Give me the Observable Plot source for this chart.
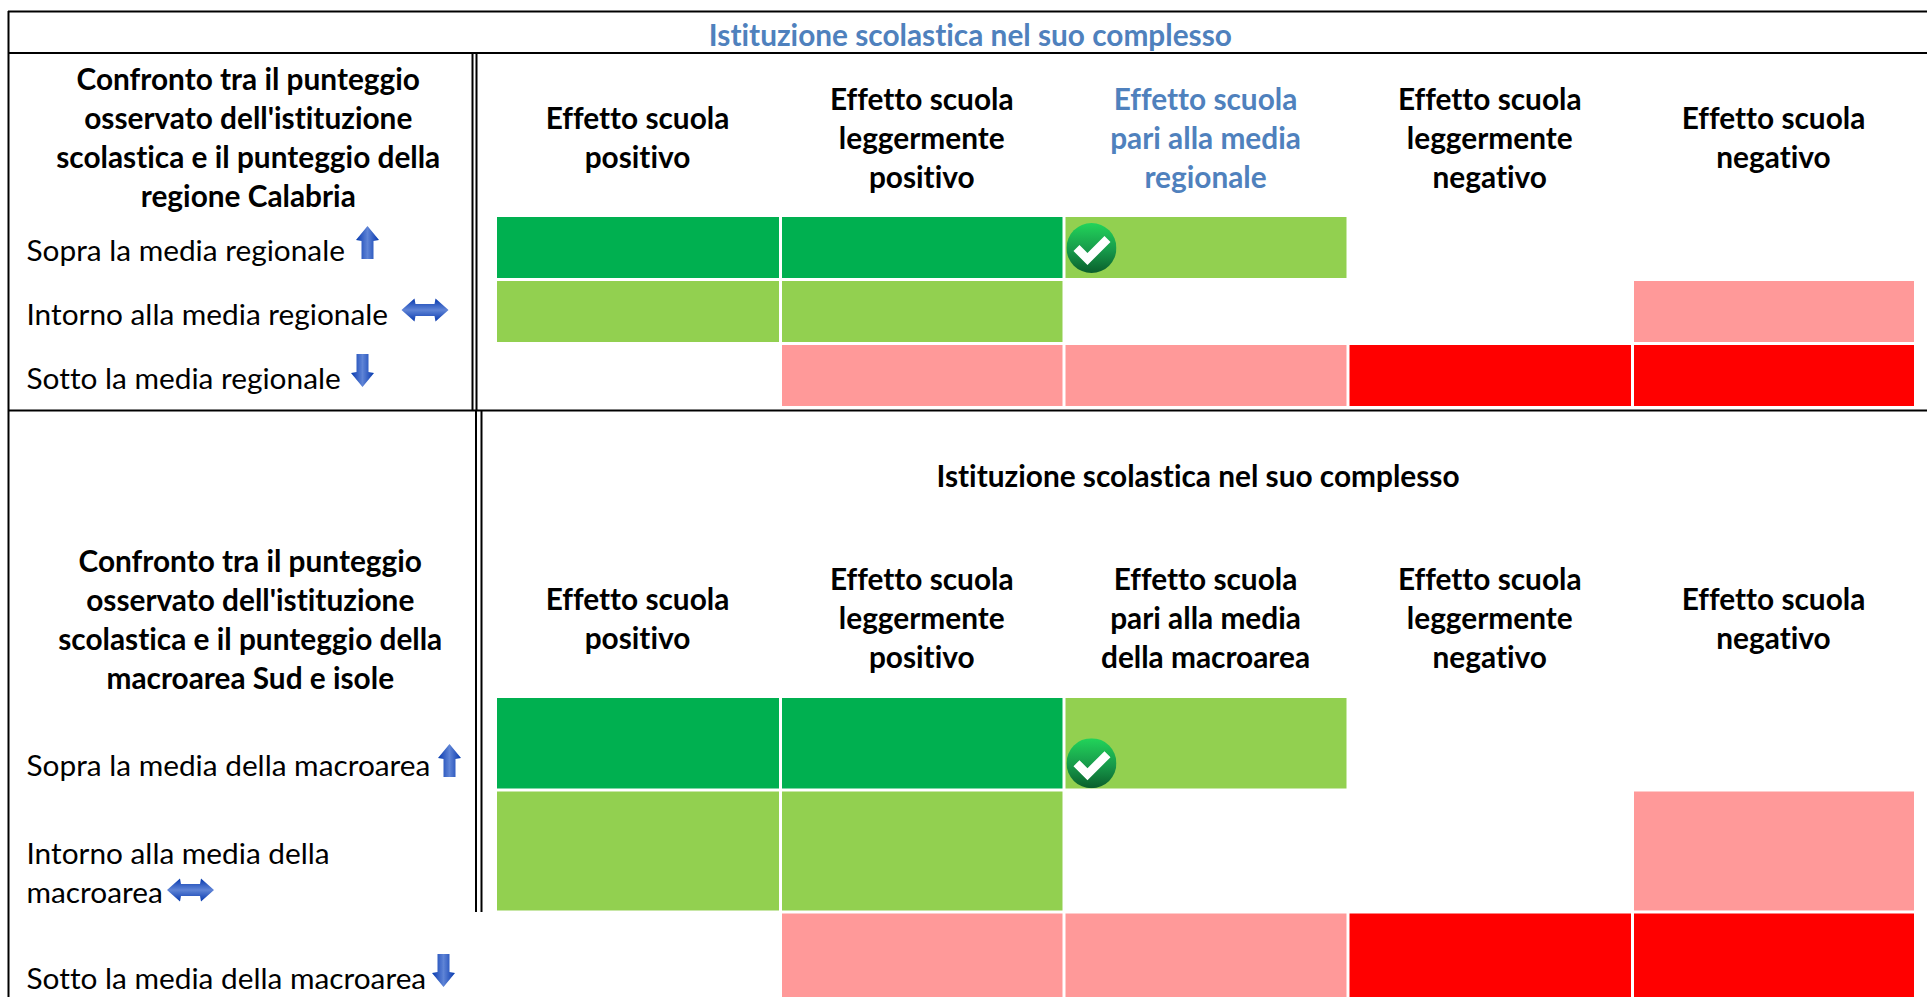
<!DOCTYPE html>
<html><head><meta charset="utf-8">
<script src="https://cdn.jsdelivr.net/npm/d3@7"></script>
<script src="https://cdn.jsdelivr.net/npm/@observablehq/plot@0.6"></script>
<style>html,body{margin:0;padding:0;background:#fff;overflow:hidden}svg{display:block}text{font-variant-ligatures:none}</style>
</head><body><div id="chart"></div>
<script>
const tableTitle = "Istituzione scolastica nel suo complesso";
const headingA = "Confronto tra il punteggio\nosservato dell'istituzione\nscolastica e il punteggio della\nregione Calabria";
const headingB = "Confronto tra il punteggio\nosservato dell'istituzione\nscolastica e il punteggio della\nmacroarea Sud e isole";
const columnsA = ["Effetto scuola\npositivo","Effetto scuola\nleggermente\npositivo","Effetto scuola\npari alla media\nregionale","Effetto scuola\nleggermente\nnegativo","Effetto scuola\nnegativo"];
const columnsB = ["Effetto scuola\npositivo","Effetto scuola\nleggermente\npositivo","Effetto scuola\npari alla media\ndella macroarea","Effetto scuola\nleggermente\nnegativo","Effetto scuola\nnegativo"];
const rowsA = ["Sopra la media regionale","Intorno alla media regionale","Sotto la media regionale"];
const rowsB = ["Sopra la media della macroarea","Intorno alla media della\nmacroarea","Sotto la media della macroarea"];
const levels = ["alto","medio","basso","minimo"];
const levelColors = ["#00B050","#92D050","#FF9999","#FF0000"];
const grid = [
  ["alto","alto","medio",null,null],
  ["medio","medio",null,null,"basso"],
  [null,"basso","basso","minimo","minimo"]
];
// Column and row bands of the table: index -> pixel edge
const xEdges = [8,495.5,780.5,1064,1348,1632.5,1915.5];
const yEdges = [11,52.5,215.5,279.5,343.5,407.5,410,540,696.5,790,912,999];
const rowStartA = 2, rowStartB = 8;

const cells = [];
for (const start of [rowStartA,rowStartB]) grid.forEach((r,i)=>r.forEach((lv,j)=>{ if(lv) cells.push({c:j+1,r:start+i,lv}); }));

const svgUri = s => "data:image/svg+xml," + encodeURIComponent(s);
const blueGrad = (dir) => `<defs><linearGradient id="g" ${dir}><stop offset="0" stop-color="#0638AE"/><stop offset=".5" stop-color="#5F84D6"/><stop offset="1" stop-color="#0638AE"/></linearGradient><filter id="b"><feGaussianBlur stdDeviation=".4"/></filter></defs>`;
const upArrow = svgUri(`<svg xmlns="http://www.w3.org/2000/svg" width="25" height="35" viewBox="0 0 25 35">${blueGrad('x1="0" x2="1" y1="0" y2="0"')}<path filter="url(#b)" fill="url(#g)" d="M12.5 1 L24 15 L18.5 16 L18.5 34 L6.5 34 L6.5 16 L1 15 Z"/></svg>`);
const downArrow = svgUri(`<svg xmlns="http://www.w3.org/2000/svg" width="25" height="35" viewBox="0 0 25 35">${blueGrad('x1="0" x2="1" y1="0" y2="0"')}<path filter="url(#b)" fill="url(#g)" d="M12.5 34 L24 20 L18.5 19 L18.5 1 L6.5 1 L6.5 19 L1 20 Z"/></svg>`);
const bothArrow = svgUri(`<svg xmlns="http://www.w3.org/2000/svg" width="49" height="25" viewBox="0 0 49 25">${blueGrad('x1="0" x2="0" y1="0" y2="1"')}<path filter="url(#b)" fill="url(#g)" d="M1 12.5 L14 1 L15 6.5 L34 6.5 L35 1 L48 12.5 L35 24 L34 18.5 L15 18.5 L14 24 Z"/></svg>`);
const tick = svgUri(`<svg xmlns="http://www.w3.org/2000/svg" width="50" height="50" viewBox="0 0 50 50"><defs><linearGradient id="c" x1="0" x2="0" y1="0" y2="1"><stop offset="0" stop-color="#22D45A"/><stop offset=".55" stop-color="#17994A"/><stop offset="1" stop-color="#0A5F2C"/></linearGradient></defs><circle cx="25" cy="25" r="25" fill="url(#c)"/><path d="M10 26 L21 37 L41 17" transform="translate(0,-1)" fill="none" stroke="#fff" stroke-width="8.5"/></svg>`);

const F = 29.8, LH = 39/F;
const arrow = (src,w,h,dx,dy) => Plot.image([0],{frameAnchor:"top-left",src,width:w,height:h,dx,dy});
const checks = [{c:3,r:rowStartA,at:.5},{c:3,r:rowStartB,at:.708}];

const chart = Plot.plot({
  width:1927, height:997, margin:0,
  x:{type:"linear",domain:xEdges.map((_,i)=>i),range:xEdges,axis:null},
  y:{type:"linear",domain:yEdges.map((_,i)=>i),range:yEdges,axis:null},
  color:{domain:levels,range:levelColors},
  style:{background:"#fff",fontFamily:"Lato, Carlito, sans-serif",overflow:"hidden"},
  marks:[
    Plot.rect(cells,{x1:d=>d.c,x2:d=>d.c+1,y1:d=>d.r,y2:d=>d.r+1,fill:"lv",inset:1.5}),
    // table rules
    Plot.ruleY([0,1,6],{x1:0,x2:6.1,stroke:"#000",strokeWidth:2}),
    Plot.ruleX([0],{y1:0,y2:11,stroke:"#000",strokeWidth:2}),
    Plot.ruleX([1],{y1:1,y2:6,dx:-23.5,stroke:"#000",strokeWidth:2}),
    Plot.ruleX([1],{y1:1,y2:6,dx:-19.5,stroke:"#000",strokeWidth:2}),
    Plot.ruleX([1],{y1:6,y2:10,dx:-20,stroke:"#000",strokeWidth:2}),
    Plot.ruleX([1],{y1:6,y2:10,dx:-14.5,stroke:"#000",strokeWidth:2}),
    // texts
    Plot.text([tableTitle],{x:2.668,y:0.5,text:d=>d,dy:4,fontSize:F,fontWeight:700,fill:"#4F81BD"}),
    Plot.text([tableTitle],{x:3.47,y:6.5,text:d=>d,dy:2,fontSize:F,fontWeight:700,fill:"#000"}),
    Plot.text([headingA],{x:0.5,y:1.5,text:d=>d,dx:-4,dy:2,fontSize:F,fontWeight:700,lineHeight:LH}),
    Plot.text([headingB],{x:0.5,y:7.5,text:d=>d,dx:-2,dy:-1,fontSize:F,fontWeight:700,lineHeight:LH}),
    Plot.text(columnsA,{x:(d,i)=>i+1.5,y:1.5,text:d=>d,dx:-1,dy:2,fontSize:F,fontWeight:700,lineHeight:LH,fill:(d,i)=>i===2?"#4F81BD":"#000"}),
    Plot.text(columnsB,{x:(d,i)=>i+1.5,y:7.5,text:d=>d,dx:-1,dy:-2,fontSize:F,fontWeight:700,lineHeight:LH}),
    Plot.text(rowsA,{x:0,y:(d,i)=>rowStartA+i+.5,text:d=>d,dx:18,dy:3,fontSize:F,textAnchor:"start"}),
    Plot.text(rowsB.slice(0,2),{x:0,y:(d,i)=>rowStartB+i+.5,text:d=>d,dx:18,dy:20,fontSize:F,textAnchor:"start",lineHeight:LH}),
    Plot.text(rowsB.slice(2),{x:0,y:rowStartB+2.5,text:d=>d,dx:18,dy:23,fontSize:F,textAnchor:"start"}),
    arrow(upArrow,25,35,367,242),
    arrow(bothArrow,49,25,424.5,309.5),
    arrow(downArrow,25,35,362,370),
    arrow(upArrow,25,35,449,760),
    arrow(bothArrow,49,25,190,889.5),
    arrow(downArrow,25,35,443,970),
    Plot.image(checks,{x:d=>d.c+.095,y:d=>d.r+d.at,src:()=>tick,width:50,height:50}),
  ]
});
document.getElementById("chart").append(chart);
</script></body></html>
